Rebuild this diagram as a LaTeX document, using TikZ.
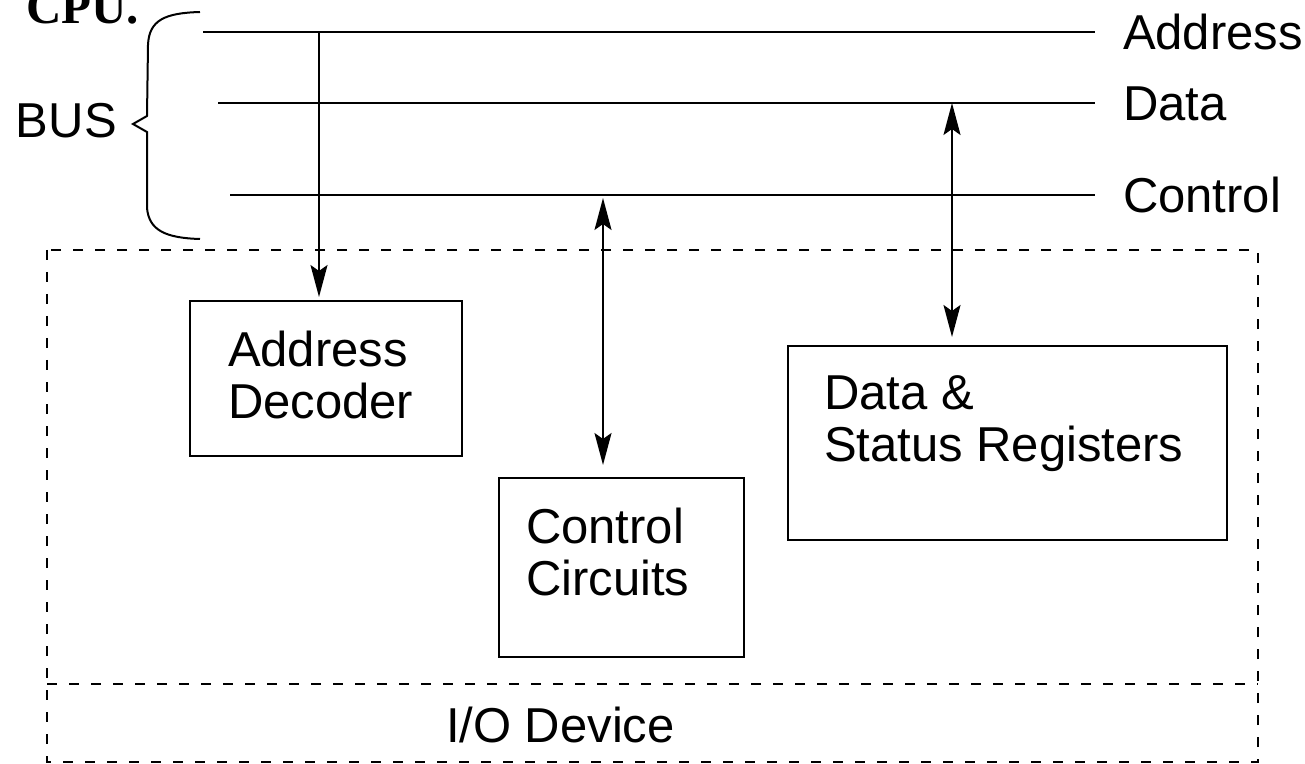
\documentclass[tikz,border=0pt]{standalone}
\usepackage{fontspec}
\setmainfont{Liberation Sans}
\newfontfamily\cpuserif{Liberation Serif}
\usetikzlibrary{arrows.meta}

\begin{document}
\begin{tikzpicture}[x=0.5pt,y=-0.5pt,line width=1pt,
		txt/.style={inner sep=0pt,font=\fontsize{24.5}{26}\selectfont},
		regbox/.style={draw,inner sep=0pt,anchor=north west},
		devline/.style={dash pattern=on 5pt off 6pt},
		>={Stealth[length=16pt,width=8.5pt,inset=3pt]}]
			\useasboundingbox (0,0) rectangle (1305,764);
			\def\xr{1095}%end of bus lines
			\node[anchor=base west,inner sep=0pt,font=\cpuserif\bfseries\fontsize{24.5}{26}\selectfont] (cpu) at (25,24) {CPU.};
			% bus lines
			\foreach \nm/\xl/\y/\lab in {adr/203/32/Address,dat/218/103/Data,ctl/230/195/Control}{
				\coordinate (\nm L) at (\xl,\y);
				\coordinate (\nm R) at (\xr,\y);
				\draw (\nm L)--(\nm R);
				\node[txt,anchor=base west] (\nm lab) at (1122,\y+17.5) {\lab};
			}
			\draw (200,12) .. controls (165,13) and (149,20) .. (148,45) --(147,116)--(133,124)--(147,132)--(147,208) .. controls (149,230) and (165,238) .. (200,239);
			\node[txt,anchor=base west] (bus) at (15,138) {BUS};
			% I/O device
			\draw[devline] (47,250) rectangle (1258,762);
			\draw[devline] (47,684)--(1258,684);
			\node[txt,anchor=base west] (io) at (445,742) {I/O Device};
			\node[regbox,minimum width=136pt,minimum height=77.5pt] (dec) at (189,300) {};
			\node[regbox,minimum width=122.5pt,minimum height=89.5pt] (cc) at (498,477) {};
			\node[regbox,minimum width=219.5pt,minimum height=97pt] (reg) at (787,345) {};
			\node[txt,anchor=north west,align=left] (dectxt) at (227,330) {Address\\Decoder};
			\node[txt,anchor=north west,align=left] (cctxt) at (525,507) {Control\\Circuits};
			\node[txt,anchor=north west,align=left] (regtxt) at (823,375) {Data \&\\Status Registers};
			% taps
			\coordinate (a1) at (319,32);
			\coordinate (c1) at (603,195);
			\coordinate (d1) at (952,103);
			\draw[->,shorten >=1.5pt] (a1)--(a1 |- dec.north);
			\draw[<->,shorten <=1.5pt,shorten >=6pt] (c1)--(c1 |- cc.north);
			\draw[<->,shorten >=4pt] (d1)--(d1 |- reg.north);
		\end{tikzpicture}
\end{document}
